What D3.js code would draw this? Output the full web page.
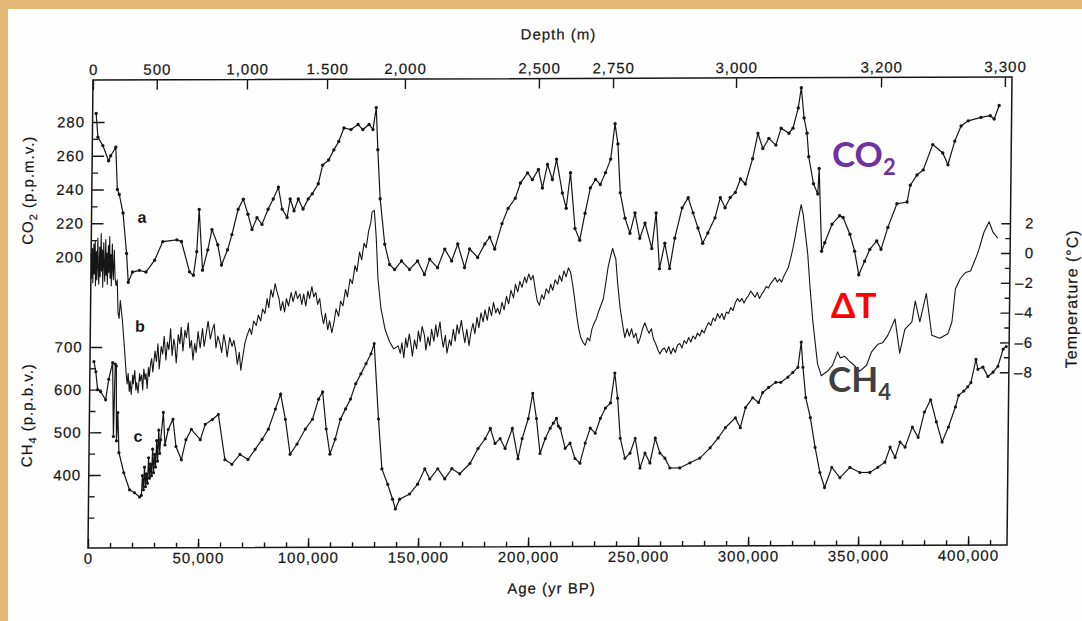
<!DOCTYPE html>
<html>
<head>
<meta charset="utf-8">
<script src="https://cdn.jsdelivr.net/npm/d3@7"></script>
<style>
html, body { margin: 0; padding: 0; background: #e3b876; }
svg { display: block; }
</style>
</head>
<body>
<svg id="chart" width="1082" height="621"></svg>
<script>
// ages in kyr BP
const co2 = [
[1.6,285],[2.5,271],[4.8,266],[7.5,257],[8.4,260],[10.7,265],[11.6,240],[12.5,237],[14.3,226],[16.1,202],[17,185],[18.9,191],[22,192],[25,191],[28.9,198],[32.5,209],[38.9,210],[41,209],[44.8,191],[46.6,189],[48,203],[48.9,228],[50.7,192],[53,204],[54.8,216],[57.5,207],[59.3,195],[62,204],[63.9,213],[66.6,228],[68.9,234],[71.1,225],[73,216],[75.2,223],[77.5,219],[80.2,228],[82.5,234],[84.8,241],[86.6,228],[88.9,223],[90.2,234],[92,227],[93.9,234],[96.1,228],[98.4,234],[100.2,237],[102.9,243],[104.8,254],[107.5,257],[109.8,263],[112,268],[114.3,276],[117.5,275],[120.7,278],[122.9,275],[125.7,278],[127.5,275],[128.9,288],[129.8,263],[131.1,234],[133.4,207],[135.7,195],[138,192],[141.1,197],[144.8,192],[148.4,197],[151.6,189],[153.9,198],[157.5,193],[160.7,204],[163.9,197],[166.6,207],[169.8,193],[172,204],[175.7,199],[178.9,207],[181.1,211],[183.4,204],[186.6,219],[189.3,228],[192.5,234],[194.8,243],[198,249],[200.2,245],[202.9,251],[204.8,240],[207,254],[209.3,245],[211.1,257],[213.9,237],[215.7,228],[217.5,249],[219.8,216],[222,209],[224.3,225],[226.6,240],[228.9,245],[231.1,242],[233.4,249],[235.7,257],[237.5,278],[238.9,266],[240.2,237],[242.5,222],[244.8,213],[247,225],[249.3,210],[251.6,219],[254.8,204],[256.6,225],[258.4,192],[260.7,207],[263,192],[265.2,210],[268.4,228],[271.1,234],[273.4,225],[275.7,216],[277.9,207],[280.2,213],[283.4,222],[285.7,234],[287.9,228],[290.2,234],[292.5,237],[294.8,245],[297,242],[300.2,257],[302.5,272],[304.8,263],[307.5,269],[310.7,265],[313,275],[316.6,272],[318.4,275],[320.7,287],[322,299],[323.4,281],[324.8,272],[325.7,258],[328,242],[330,236],[330.5,251],[332,202],[333.4,207],[336.6,218],[340,223],[341.6,222],[344.8,212],[347,202],[349,188],[351.6,196],[353.9,203],[357,208],[359,203],[362,216],[366,230],[370.6,231],[372,241],[375,247],[377.8,250],[382,265],[386.6,260],[389,253],[392,267],[394.8,276],[398,279],[403.8,281],[408,282],[409.8,280],[412,288]
];

const tempAnom = [
[0,0.2],[0.3,-1.5],[0.6,0.5],[0.9,-1.8],[1.2,0.8],[1.5,-1.2],[1.8,1.0],[2.1,-2.0],[2.4,0.3],[2.7,-1.6],[3.0,1.2],[3.3,-0.8],[3.6,-1.9],[3.9,0.6],[4.2,-1.4],[4.5,1.5],[4.8,-1.0],[5.1,0.4],[5.4,-2.1],[5.7,0.9],[6.0,-0.6],[6.3,-1.7],[6.6,1.1],[6.9,-1.3],[7.2,0.2],[7.5,-1.9],[7.8,0.7],[8.1,-1.1],[8.4,1.3],[8.7,-1.5],[9.0,0.1],[9.3,-2.0],[9.6,0.8],[9.9,-0.9],[10.2,-1.6],[10.5,0.4],
[11,-1.5],[11.5,-2.0],[12,-1.6],[12.5,-3.8],[13,-4.2],[13.5,-3.0],[14.5,-4.3],[15.5,-6.0],[16.5,-7.9],
[17,-8.6],[17.4,-7.9],[18,-9.1],[18.3,-8.4],[18.9,-9.3],[19.5,-8.0],[19.8,-8.6],[20.4,-7.7],[21,-9.0],[21.3,-8.5],[22,-9.2],[22.6,-7.9],[22.9,-8.4],[23.5,-8.0],[24.1,-9.0],[24.5,-7.6],[25.1,-8.3],[25.5,-7.9],[26.1,-8.9],[26.6,-7.5],[27,-8.1],[27.6,-7.2],
[28,-6.9],[28.6,-7.8],[29.5,-6.4],[30.2,-7.1],[30.8,-5.9],[31.5,-7.6],[32.3,-6.1],[33,-6.6],[33.6,-5.4],[34.5,-7.0],[35.1,-5.8],[35.8,-6.3],[36.5,-4.9],[37.3,-6.7],[38,-5.6],[38.5,-6.0],[39.2,-7.2],[40,-5.3],[40.8,-5.9],[41.3,-4.8],[42.2,-6.4],[43,-5.0],[43.7,-5.5],[44.5,-4.5],[45.3,-6.2],[46,-5.7],[46.8,-7.0],[47.5,-5.9],[48.2,-6.5],[49,-5.1],[50,-6.2],
[51,-4.9],[51.8,-6.1],[52.7,-5.2],[53.5,-4.4],[54.6,-5.6],[55.4,-5.0],[56.3,-4.6],[57.2,-6.2],[58,-5.4],[59,-5.9],[59.8,-6.5],[60.7,-5.3],[61.6,-6.0],[62.3,-6.8],[63.4,-5.5],[64.5,-6.1],[65.3,-5.7],[66.2,-6.4],[67,-7.3],[67.8,-6.5],[68.6,-7.7],[69.4,-6.8],[70.3,-5.9],[71.2,-5.4],[72.4,-4.9],[73.3,-5.3],[74.2,-4.4],[75.4,-4.7],[76.3,-4.0],[77.4,-4.4],[78.2,-3.6],[79.3,-3.9],[80.2,-2.9],[81,-3.5],[81.9,-2.3],[82.8,-2.8],[83.8,-1.9],[84.6,-2.4],[85.6,-2.9],[86.4,-3.7],[87.3,-3.1],[88.2,-3.8],[89,-2.9],[90,-3.4],[91.1,-2.5],[92,-3.1],[93.2,-2.4],[94,-2.9],[95.1,-2.6],[96,-3.3],[96.8,-2.6],[97.8,-3.4],[98.7,-2.4],[99.5,-2.9],[100.5,-2.1],[101.4,-2.8],[102.3,-2.5],[103.2,-3.3],[104.1,-2.9],[105,-3.9],[106,-4.6],[106.8,-3.9],[107.9,-5.0],[108.7,-4.4],[109.8,-5.2],[110.7,-4.5],[111.6,-3.6],[112.8,-4.1],[113.6,-3.1],[114.7,-3.4],[115.8,-2.3],[116.7,-2.8],[117.8,-1.6],[118.9,-1.9],[120,-0.7],[120.9,-1.1],[122,0.2],[123,-0.3],[124,0.8],[125,0.5],[126,1.6],[127,2.2],[127.5,2.9],[128.5,3.0],[129.5,1.2],[130.5,-1.6],[132,-3.6],[134,-5.0],[136,-5.8],[138,-6.3],[140,-6.1],
[141,-6.6],[141.7,-5.9],[142.6,-6.9],[143.4,-5.6],[144.1,-6.2],[145,-5.3],[145.9,-6.1],[146.5,-6.8],[147.4,-5.7],[148.4,-6.3],[149.1,-5.1],[150,-5.8],[150.8,-4.8],[151.9,-5.4],[152.6,-6.4],[153.5,-5.5],[154.4,-6.1],[155.1,-5.0],[156.2,-5.8],[157,-4.7],[157.8,-5.5],[158.9,-4.5],[159.6,-5.4],[160.5,-6.2],[161.4,-5.4],[162.2,-6.6],[163.3,-5.7],[164,-6.1],[165,-5.0],[165.9,-5.8],[166.7,-4.7],[167.6,-5.3],[168.6,-4.4],[169.3,-5.1],[170.3,-5.9],[171.1,-5.0],[172.2,-6.1],[173,-5.2],[173.9,-4.6],[174.8,-5.3],[175.7,-4.2],[176.6,-4.9],[177.5,-3.9],[178.5,-4.5],[179.3,-3.7],[180.4,-4.4],[181.2,-3.5],[182.3,-4.1],[183.1,-3.2],[184.2,-3.9],[185,-3.6],
[186,-4.0],[187,-3.2],[188,-3.7],[189,-2.8],[190,-3.3],[191,-2.4],[192.2,-2.9],[193,-2.0],[194.1,-2.5],[195,-1.8],[196,-2.2],[197.2,-1.5],[198,-1.9],[199,-1.3],[200,-1.7],[201,-1.4],[202,-2.3],[203,-3.1],[204,-3.4],[205,-2.7],[206,-3.0],[207,-2.3],[208.2,-2.6],[209,-2.0],[210,-2.4],[211,-1.7],[212.2,-2.0],[213,-1.4],[214,-1.8],[215,-1.1],[216,-1.5],[217,-0.9],[218,-1.2],[219,-2.0],[220,-3.0],[221,-4.1],[222,-5.0],[223,-5.6],[224,-5.9],[225,-6.1],[226,-5.6],[227,-5.8],[228,-5.0],[229,-4.6],[230,-4.3],[231,-3.8],[232,-3.4],[233,-3.0],[234,-2.0],[235,-0.9],[236,-0.2],[237,0.4],[238,-0.1],[238.5,-0.3],[239.5,-2.0],[240.7,-3.6],[242,-4.8],[243,-5.6],[244,-5.0],[245,-5.5],[246,-5.0],[247,-5.6],[248,-5.3],[249,-6.0],[250,-5.6],[251,-5.0],[252,-4.6],[253,-5.0],[254,-5.3],[255,-5.0],[256,-5.7],[257,-6.0],[258,-6.4],[259,-6.7],[260,-6.4],[261,-6.3],[262,-6.6],[263,-6.2],[264,-6.7],[265,-6.3],[266,-6.6],[267,-6.1],[268,-6.0],[269,-6.3],[270,-5.8],[271,-6.0],[272,-5.6],[273,-5.9],[274,-5.5],[275,-5.7],[276,-5.3],[277,-5.5],[278,-5.1],[279,-5.3],[280,-4.9],[281,-4.6],[282,-4.8],[283,-4.3],[284,-4.5],[285,-4.0],[286,-4.3],[287,-4.0],[288,-4.4],[289,-3.9],[290,-4.0],[291,-3.6],[292,-3.8],[293,-3.3],[294,-3.0],[295,-3.2],[296,-3.0],[297,-3.3],[298,-3.0],[299,-2.8],[300,-2.5],[301,-2.7],[302,-2.9],[303,-2.6],[304,-3.0],[305,-2.7],[306,-2.5],[307,-2.2],[308,-2.3],[309,-2.0],[310,-1.8],[311,-1.6],[312,-1.9],[313,-1.7],[314,-1.9],[315,-1.5],[316,-1.2],[317,-0.9],[318,-0.3],[319,0.4],[320,1.2],[321,2.1],[322,2.9],[322.5,3.3],[323.5,2.6],[325.7,0.0],[327,-2.4],[328.4,-4.6],[330.7,-7.4],[332.5,-8.2],[335.2,-7.9],[337.5,-7.5],[339.8,-6.6],[341,-7.0],[343,-6.9],[345,-7.2],[346.6,-7.4],[348,-7.6],[349.8,-7.9],[351.5,-7.7],[353,-7.5],[355.2,-6.6],[358,-6.1],[360.2,-6.0],[362.5,-5.5],[364,-5.0],[365.7,-4.4],[368,-6.7],[370.2,-5.1],[373.4,-4.6],[374.8,-3.2],[377,-4.6],[379.8,-2.7],[382.5,-5.5],[386.1,-5.7],[389.8,-5.4],[391.6,-4.6],[393,-2.4],[395.2,-1.7],[397.5,-1.3],[399.8,-1.2],[403,0.0],[405.7,1.4],[408,2.1],[409.8,1.4],[412,1.0]
];

const ch4 = [
[1.8,666],[2.7,642],[3.6,600],[5,595],[7.3,576],[8.6,624],[10.3,663],[11,490],[11.5,660],[12,655],[12.4,480],[12.9,546],[13.6,452],[15.9,405],[18.6,365],[20.9,358],[23.2,348],
[24,352],[24.4,398],[24.9,365],[25.3,418],[25.8,372],[26.2,402],[26.7,380],[27.1,440],[27.6,392],[28,425],[28.5,398],[28.9,460],[29.4,405],[29.8,448],[30.3,418],[30.7,480],[31.2,432],[31.6,505],[32.1,450],[32.5,482],[33.6,546],[34.5,470],[35.9,506],[38,530],[39.5,466],[42,435],[44,482],[46.4,506],
[50.5,482],[52.7,518],[55.9,529],[58.6,541],[61.8,435],[65,424],[68.6,447],[72.3,435],[75.5,459],[78.6,482],[81.4,506],[84.5,553],[86.8,588],[89.1,529],[91.4,447],[94.5,471],[98.2,506],[101.4,529],[104.1,576],[105.9,593],[107.7,506],[109.5,447],[111.8,482],[114.1,529],[116.4,553],[118.6,576],[120.9,612],[123.2,635],[125.5,659],[127.7,682],[129.1,706],[131.4,529],[133.2,412],[135.9,376],[138.2,341],[139.5,318],[141.4,341],[145.9,353],[149.5,376],[152.7,412],[155,388],[158.6,412],[161.8,388],[165,412],[168.6,400],[173.2,424],[176.8,459],[180,482],[182.3,506],[184.5,471],[186.8,482],[189.1,459],[192.3,506],[195,435],[196.8,482],[199.5,529],[201.4,588],[203.2,529],[205,447],[207.3,482],[209.5,506],[210.9,518],[212.3,529],[213.2,511],[214.1,506],[216.4,459],[218.6,471],[220.9,435],[223.2,424],[225.5,471],[227.7,506],[230,494],[232.3,529],[234.5,553],[236.8,565],[238.6,635],[240,576],[241.4,482],[243.6,435],[245.9,447],[248.2,482],[250.5,412],[252.7,447],[255,424],[257.3,482],[259.5,447],[261.8,435],[264.1,412],[268.6,412],[273.2,424],[277.7,435],[282.3,459],[285.9,482],[289.1,506],[293.6,529],[295.9,506],[298.2,553],[301.4,576],[304.1,565],[305.9,588],[308.6,600],[311.8,612],[314.1,612],[317.3,624],[319.5,635],[321.8,647],[323.2,706],[324.1,647],[325.5,576],[327.7,529],[330,459],[332.3,400],[334.5,365],[337.7,412],[341.4,388],[345.9,412],[350.5,400],[355,400],[358.6,412],[361.8,424],[364.1,459],[366.4,435],[368.6,471],[370.9,459],[374.1,506],[376.8,482],[379.5,541],[382.3,570],[385,518],[387.7,471],[390.5,506],[393.6,553],[395,580],[397.3,590],[399.1,600],[400.5,610],[402.7,664],[403.6,641],[405.9,646],[408.2,624],[410.5,634],[412.7,648],[415,688],[416.4,694]
];

// axis ticks
const ageTicks = [0, 50000, 100000, 150000, 200000, 250000, 300000, 350000, 400000];
const depthLabels = ["0", "500", "1,000", "1.500", "2,000", "2,500", "2,750", "3,000", "3,200", "3,300"];
const depthAges = [0, 29000, 70000, 106400, 141800, 202700, 236400, 292300, 358200, 414500];
const co2Ticks = [200, 220, 240, 260, 280];
const co2Minor = [210, 230, 250, 270];
const ch4Ticks = [400, 500, 600, 700];
const ch4Minor = [300, 350, 450, 550, 650];
const tempTicks = [2, 0, -2, -4, -6, -8];
const tempMinor = [1, -1, -3, -5, -7];

const W = 1082, H = 621;
const ink = "#161616";
const font = "'Liberation Sans', Arial, sans-serif";

const svg = d3.select("#chart");
svg.append("rect").attr("width", W).attr("height", H).attr("fill", "#e3b876");
svg.append("rect").attr("x", 8).attr("y", 9).attr("width", W - 8).attr("height", H - 9).attr("fill", "#fefefe");

// the scanned figure is slightly sheared
const g = svg.append("g").attr("transform", "matrix(1,-0.00326,-0.0107,1,5.86,0.29)");

const pLeft = 88, pRight = 1007, pTop = 80, pBottom = 548;
const x = d3.scaleLinear().domain([0, 417700]).range([pLeft, pRight]);
const yCO2 = d3.scaleLinear().domain([200, 280]).range([257, 122]);
const yCH4 = d3.scaleLinear().domain([400, 700]).range([475, 347]);
const yT = d3.scaleLinear().domain([-8, 2]).range([375.2, 226.2]);

function styleAxis(sel) {
    sel.select(".domain").remove();
    sel.selectAll("line").attr("stroke", ink).attr("stroke-width", 1.4);
    sel.selectAll("text").attr("fill", ink).attr("stroke", ink).attr("stroke-width", 0.2)
        .style("font-family", font).style("font-size", "15px").style("letter-spacing", "1px");
}

// bottom age axis
g.append("g").attr("transform", `translate(0,${pBottom})`)
    .call(d3.axisBottom(x).tickValues(d3.range(10000, 417700, 10000)).tickSizeInner(-5).tickSizeOuter(0).tickFormat(""))
    .call(styleAxis);
g.append("g").attr("transform", `translate(0,${pBottom})`)
    .call(d3.axisBottom(x).tickValues(ageTicks).tickSizeInner(-9).tickSizeOuter(0).tickPadding(5).tickFormat(d3.format(",")))
    .call(styleAxis);

// top depth axis
g.append("g").attr("transform", `translate(0,${pTop})`)
    .call(d3.axisTop(x).tickValues(depthAges).tickSizeInner(-10).tickSizeOuter(0).tickPadding(5).tickFormat((d, i) => depthLabels[i]))
    .call(styleAxis);

// left axes
g.append("g").attr("transform", `translate(${pLeft},0)`)
    .call(d3.axisLeft(yCO2).tickValues(co2Ticks).tickSizeInner(-12).tickSizeOuter(0).tickPadding(7.5))
    .call(styleAxis);
g.append("g").attr("transform", `translate(${pLeft},0)`)
    .call(d3.axisLeft(yCO2).tickValues(co2Minor).tickSizeInner(-6).tickSizeOuter(0).tickFormat(""))
    .call(styleAxis);
g.append("g").attr("transform", `translate(${pLeft},0)`)
    .call(d3.axisLeft(yCH4).tickValues(ch4Ticks).tickSizeInner(-12).tickSizeOuter(0).tickPadding(7.5))
    .call(styleAxis);
g.append("g").attr("transform", `translate(${pLeft},0)`)
    .call(d3.axisLeft(yCH4).tickValues(ch4Minor).tickSizeInner(-6).tickSizeOuter(0).tickFormat(""))
    .call(styleAxis);

// right temperature axis
const rAx = g.append("g").attr("transform", `translate(${pRight},0)`)
    .call(d3.axisRight(yT).tickValues(tempTicks).tickSizeInner(-9).tickSizeOuter(0).tickFormat(d => d < 0 ? "–" + (-d) : d))
    .call(styleAxis);
rAx.selectAll("text").attr("text-anchor", "end").attr("x", 24);
g.append("g").attr("transform", `translate(${pRight},0)`)
    .call(d3.axisRight(yT).tickValues(tempMinor).tickSizeInner(-5).tickSizeOuter(0).tickFormat(""))
    .call(styleAxis);

// frame
g.append("rect").attr("x", pLeft).attr("y", pTop).attr("width", pRight - pLeft).attr("height", pBottom - pTop)
    .attr("fill", "none").attr("stroke", ink).attr("stroke-width", 1.5);

// series
const lineCO2 = d3.line().x(d => x(d[0] * 1000)).y(d => yCO2(d[1]));
const lineT = d3.line().x(d => x(d[0] * 1000)).y(d => yT(d[1]));
const lineCH4 = d3.line().x(d => x(d[0] * 1000)).y(d => yCH4(d[1]));

g.append("path").datum(tempAnom).attr("d", lineT)
    .attr("fill", "none").attr("stroke", ink).attr("stroke-width", 1.1).attr("stroke-linejoin", "round");

g.append("path").datum(co2).attr("d", lineCO2)
    .attr("fill", "none").attr("stroke", ink).attr("stroke-width", 1.2);
g.append("g").selectAll("circle").data(co2).enter().append("circle")
    .attr("cx", d => x(d[0] * 1000)).attr("cy", d => yCO2(d[1])).attr("r", 1.7).attr("fill", ink);

g.append("path").datum(ch4).attr("d", lineCH4)
    .attr("fill", "none").attr("stroke", ink).attr("stroke-width", 1.2);
g.append("g").selectAll("circle").data(ch4).enter().append("circle")
    .attr("cx", d => x(d[0] * 1000)).attr("cy", d => yCH4(d[1])).attr("r", 1.6).attr("fill", ink);

// axis titles
const txt = (sel) => sel.attr("fill", ink).attr("stroke", ink).attr("stroke-width", 0.2)
    .style("font-family", font).style("font-size", "15px").style("letter-spacing", "1px");

g.append("text").attr("x", 553).attr("y", 41).attr("text-anchor", "middle").text("Depth (m)").call(txt);
g.append("text").attr("x", 552).attr("y", 595).attr("text-anchor", "middle").text("Age (yr BP)").call(txt);

const tCO2 = g.append("text").attr("transform", "translate(29.5,190) rotate(-90)").attr("text-anchor", "middle").call(txt);
tCO2.append("tspan").text("CO");
tCO2.append("tspan").attr("dy", 4).style("font-size", "11px").text("2");
tCO2.append("tspan").attr("dy", -4).text(" (p.p.m.v.)");

const tCH4 = g.append("text").attr("transform", "translate(31,415) rotate(-90)").attr("text-anchor", "middle").call(txt);
tCH4.append("tspan").text("CH");
tCH4.append("tspan").attr("dy", 4).style("font-size", "11px").text("4");
tCH4.append("tspan").attr("dy", -4).text(" (p.p.b.v.)");

g.append("text").attr("transform", "translate(1074.5,302) rotate(-90)").attr("text-anchor", "middle")
    .text("Temperature (°C)").call(txt).style("font-size", "16px");

// curve letters
const letters = [["a", 138.5, 223], ["b", 137.6, 332], ["c", 136.8, 442]];
g.selectAll("text.letter").data(letters).enter().append("text").attr("class", "letter")
    .attr("x", d => d[1]).attr("y", d => d[2]).attr("text-anchor", "middle")
    .attr("fill", ink).style("font-family", font).style("font-weight", "bold").style("font-size", "16px")
    .text(d => d[0]);

// coloured annotations
const big = (sel, color) => sel.attr("fill", color).style("font-family", "Lato, 'Open Sans', sans-serif")
    .style("font-weight", "700").style("font-size", "35px");

const lCO2 = svg.append("text").attr("x", 832).attr("y", 167).call(big, "#7030a0");
lCO2.append("tspan").text("CO");
lCO2.append("tspan").attr("dy", 8).style("font-size", "22px").text("2");

svg.append("text").attr("x", 831).attr("y", 318).call(big, "#ff0000").text("ΔT");

const lCH4 = svg.append("text").attr("x", 828).attr("y", 392).call(big, "#404040");
lCH4.append("tspan").text("CH");
lCH4.append("tspan").attr("dy", 8).style("font-size", "22px").text("4");
</script>
</body>
</html>
